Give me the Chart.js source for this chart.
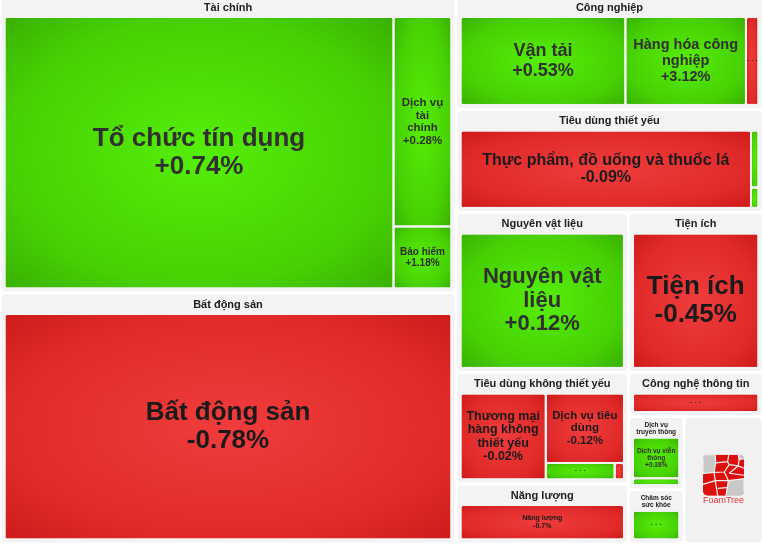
<!DOCTYPE html>
<html>
<head>
<meta charset="utf-8">
<script src="https://cdn.jsdelivr.net/npm/chart.js@4.4.1/dist/chart.umd.min.js"></script>
<style>
  html, body { margin: 0; padding: 0; background: #fff; }
  canvas { display: block; }
</style>
</head>
<body>
<canvas id="map" width="763" height="544"></canvas>
<script>
// Sectors (top level cells)
var sectors = ['Tài chính', 'Bất động sản', 'Công nghiệp', 'Tiêu dùng thiết yếu',
  'Nguyên vật liệu', 'Tiện ích', 'Tiêu dùng không thiết yếu', 'Năng lượng',
  'Công nghệ thông tin', 'Dịch vụ truyền thông', 'Chăm sóc sức khỏe'];

// Industries, their sector, weight (% of market) and change (%)
var industries = ['Tổ chức tín dụng', 'Dịch vụ tài chính', 'Bảo hiểm', 'Bất động sản',
  'Vận tải', 'Hàng hóa công nghiệp', 'Dịch vụ thương mại và chuyên nghiệp',
  'Thực phẩm, đồ uống và thuốc lá', 'Bán lẻ thực phẩm và dược phẩm', 'Sản phẩm gia dụng và cá nhân',
  'Nguyên vật liệu', 'Tiện ích',
  'Thương mại hàng không thiết yếu', 'Dịch vụ tiêu dùng', 'Hàng tiêu dùng lâu bền và may mặc', 'Ô tô và linh kiện',
  'Năng lượng', 'Phần mềm và dịch vụ',
  'Dịch vụ viễn thông', 'Truyền thông và giải trí', 'Dược phẩm và công nghệ sinh học'];
var industrySector = ['Tài chính', 'Tài chính', 'Tài chính', 'Bất động sản',
  'Công nghiệp', 'Công nghiệp', 'Công nghiệp',
  'Tiêu dùng thiết yếu', 'Tiêu dùng thiết yếu', 'Tiêu dùng thiết yếu',
  'Nguyên vật liệu', 'Tiện ích',
  'Tiêu dùng không thiết yếu', 'Tiêu dùng không thiết yếu', 'Tiêu dùng không thiết yếu', 'Tiêu dùng không thiết yếu',
  'Năng lượng', 'Công nghệ thông tin',
  'Dịch vụ truyền thông', 'Dịch vụ truyền thông', 'Chăm sóc sức khỏe'];
var industryWeight = [28.19, 3.24, 0.96, 27.37,
  4.61, 3.37, 0.35,
  7.37, 0.14, 0.05,
  6.60, 5.15,
  2.40, 1.78, 0.37, 0.05,
  2.48, 1.42,
  0.83, 0.14, 0.72];
var industryChange = [0.74, 0.28, 1.18, -0.78,
  0.53, 3.12, -0.4,
  -0.09, 0.5, 0.3,
  0.12, -0.45,
  -0.02, -0.12, 0.6, -0.3,
  -0.7, -0.2,
  0.38, 0.2, 0.4];

// space that FoamTree keeps for its logo
var LOGO = 'FoamTree';
var logoWeight = 2.41;

// How cells are stacked: 'row' splits left to right, 'col' top to bottom
var sectorLayout = {dir: 'row', items: [
  {dir: 'col', items: ['Tài chính', 'Bất động sản']},
  {dir: 'col', items: ['Công nghiệp', 'Tiêu dùng thiết yếu',
    {dir: 'row', items: ['Nguyên vật liệu', 'Tiện ích']},
    {dir: 'row', items: [
      {dir: 'col', items: ['Tiêu dùng không thiết yếu', 'Năng lượng']},
      {dir: 'col', items: ['Công nghệ thông tin',
        {dir: 'row', items: [{dir: 'col', items: ['Dịch vụ truyền thông', 'Chăm sóc sức khỏe']}, LOGO]}]}
    ]}
  ]}
]};
var industryLayout = {
  'Tài chính': {dir: 'row', items: ['Tổ chức tín dụng', {dir: 'col', items: ['Dịch vụ tài chính', 'Bảo hiểm']}]},
  'Tiêu dùng thiết yếu': {dir: 'row', items: ['Thực phẩm, đồ uống và thuốc lá',
    {dir: 'col', items: ['Bán lẻ thực phẩm và dược phẩm', 'Sản phẩm gia dụng và cá nhân']}]},
  'Tiêu dùng không thiết yếu': {dir: 'row', items: ['Thương mại hàng không thiết yếu',
    {dir: 'col', items: ['Dịch vụ tiêu dùng', {dir: 'row', items: ['Hàng tiêu dùng lâu bền và may mặc', 'Ô tô và linh kiện']}]}]},
  'Dịch vụ truyền thông': {dir: 'col', items: ['Dịch vụ viễn thông', 'Truyền thông và giải trí']}
};

// label text lines and font size for cells big enough to show a label
var labelStyle = {
  'Tổ chức tín dụng': {size: 26, lines: ['Tổ chức tín dụng']},
  'Bất động sản': {size: 26, lines: ['Bất động sản']},
  'Tiện ích': {size: 26, lines: ['Tiện ích']},
  'Nguyên vật liệu': {size: 22, lines: ['Nguyên vật', 'liệu']},
  'Vận tải': {size: 18, lines: ['Vận tải']},
  'Hàng hóa công nghiệp': {size: 14.5, lines: ['Hàng hóa công', 'nghiệp']},
  'Thực phẩm, đồ uống và thuốc lá': {size: 16, lines: ['Thực phẩm, đồ uống và thuốc lá']},
  'Dịch vụ tài chính': {size: 11.5, lines: ['Dịch vụ', 'tài', 'chính']},
  'Bảo hiểm': {size: 10, lines: ['Bảo hiểm']},
  'Thương mại hàng không thiết yếu': {size: 12.5, lines: ['Thương mại', 'hàng không', 'thiết yếu']},
  'Dịch vụ tiêu dùng': {size: 11.5, lines: ['Dịch vụ tiêu', 'dùng']},
  'Năng lượng': {size: 7, lines: ['Năng lượng']},
  'Dịch vụ viễn thông': {size: 6.5, lines: ['Dịch vụ viễn', 'thông']}
};

var FONT = '"Liberation Sans", Arial, sans-serif';
var GREEN = ['#55ee08', '#47d004', '#39b000'];
var RED = ['#f03c3c', '#e02a2a', '#ce1a1a'];

function weightOf(name){
  if(name === LOGO) return logoWeight;
  var i = industries.indexOf(name);
  if(i >= 0 && sectors.indexOf(name) < 0) return industryWeight[i];
  // a sector weighs as much as its industries
  var sum = 0;
  for(var k = 0; k < industries.length; ++k)
    if(industrySector[k] === name) sum += industryWeight[k];
  return sum;
}

function nodeWeight(node, leafWeight){
  if(typeof node === 'string') return leafWeight(node);
  return node.items.reduce(function(s, it){ return s + nodeWeight(it, leafWeight); }, 0);
}

// slice a box between the items of a node, in proportion to their weights
function split(node, box, leafWeight, out){
  if(typeof node === 'string'){ out.push({name: node, box: box}); return; }
  var total = nodeWeight(node, leafWeight);
  var pos = node.dir === 'row' ? box.x0 : box.y0;
  node.items.forEach(function(it){
    var frac = nodeWeight(it, leafWeight) / total;
    if(node.dir === 'row'){
      var w = (box.x1 - box.x0) * frac;
      split(it, {x0: pos, x1: pos + w, y0: box.y0, y1: box.y1}, leafWeight, out);
      pos += w;
    } else {
      var h = (box.y1 - box.y0) * frac;
      split(it, {x0: box.x0, x1: box.x1, y0: pos, y1: pos + h}, leafWeight, out);
      pos += h;
    }
  });
}

function roundPath(ctx, x0, y0, x1, y1, r){
  r = Math.min(r, (x1 - x0) / 2, (y1 - y0) / 2);
  ctx.beginPath();
  ctx.moveTo(x0 + r, y0);
  ctx.arcTo(x1, y0, x1, y1, r);
  ctx.arcTo(x1, y1, x0, y1, r);
  ctx.arcTo(x0, y1, x0, y0, r);
  ctx.arcTo(x0, y0, x1, y0, r);
  ctx.closePath();
}

function fillCell(ctx, b, col){
  var cx = (b.x0 + b.x1) / 2, cy = (b.y0 + b.y1) / 2;
  var hw = (b.x1 - b.x0) / 2, hh = (b.y1 - b.y0) / 2;
  if(hw <= 0 || hh <= 0) return;
  ctx.save();
  roundPath(ctx, b.x0, b.y0, b.x1, b.y1, 1.5);
  ctx.clip();
  ctx.translate(cx, cy);
  ctx.scale(hw, hh);
  var g = ctx.createRadialGradient(0, 0, 0, 0, 0, 1.42);
  g.addColorStop(0, col[0]);
  g.addColorStop(0.7, col[1]);
  g.addColorStop(1, col[2]);
  ctx.fillStyle = g;
  ctx.fillRect(-1, -1, 2, 2);
  ctx.restore();
}

function wrapWords(ctx, text, maxW){
  var words = text.split(' '), lines = [], cur = '';
  words.forEach(function(w){
    var t = cur ? cur + ' ' + w : w;
    if(cur && ctx.measureText(t).width > maxW){ lines.push(cur); cur = w; }
    else cur = t;
  });
  if(cur) lines.push(cur);
  return lines;
}

function drawLines(ctx, lines, cx, cy, lh){
  var top = cy - (lines.length - 1) * lh / 2;
  lines.forEach(function(l, i){ ctx.fillText(l, cx, top + i * lh); });
}

function drawLeaf(ctx, name, b){
  var i = industries.indexOf(name);
  var chg = industryChange[i];
  fillCell(ctx, b, chg >= 0 ? GREEN : RED);
  var w = b.x1 - b.x0, h = b.y1 - b.y0;
  ctx.save();
  ctx.beginPath();
  ctx.rect(b.x0, b.y0, w, h);
  ctx.clip();
  ctx.fillStyle = chg >= 0 ? '#303030' : '#1a1a1a';
  ctx.textAlign = 'center';
  ctx.textBaseline = 'middle';
  var st = labelStyle[name];
  if(st){
    ctx.font = 'bold ' + st.size + 'px ' + FONT;
    var txt = (chg > 0 ? '+' : '') + String(chg) + '%';
    drawLines(ctx, st.lines.concat([txt]), (b.x0 + b.x1) / 2, (b.y0 + b.y1) / 2, st.size * 1.08);
  } else if(w >= 10 && h >= 10){
    ctx.font = 'bold 8px ' + FONT;
    ctx.fillText('. . .', (b.x0 + b.x1) / 2, (b.y0 + b.y1) / 2 - 2);
  }
  ctx.restore();
}

// FoamTree badge drawn in its reserved cell (unit square coordinates)
var logoGray = [
  [[0,0],[0.30,0],[0.31,0.20],[0.27,0.43],[0,0.46]],
  [[0.86,0],[1,0],[1,0.10],[0.88,0.12]],
  [[0.62,0.63],[1,0.58],[1,1],[0.56,1]]
];
var logoSeams = [
  [[0.31,0.20],[0.60,0.17],[0.63,0]],
  [[0.60,0.17],[0.64,0.24],[0.86,0.27],[1,0.33]],
  [[0.86,0.27],[0.88,0.12]],
  [[0.27,0.43],[0.52,0.42],[0.64,0.24]],
  [[0.52,0.42],[0.62,0.63]],
  [[0.64,0.45],[0.86,0.27]],
  [[0.64,0.45],[1,0.50]],
  [[0,0.72],[0.30,0.63],[0.62,0.63]],
  [[0.30,0.63],[0.27,0.43]],
  [[0.30,0.63],[0.36,1]],
  [[0.36,0.82],[0.58,0.80]]
];
function drawLogo(ctx, p){
  ctx.save();
  roundPath(ctx, p.x0, p.y0, p.x1, p.y1, 4);
  ctx.fillStyle = '#f1f1f1';
  ctx.fill();
  var s = Math.min(p.x1 - p.x0, p.y1 - p.y0) * 0.54;
  var cx = (p.x0 + p.x1) / 2, cy = (p.y0 + p.y1) / 2 - 5;
  var lx = cx - s / 2, ly = cy - s / 2;
  var pt = function(q){ return [lx + q[0] * s, ly + q[1] * s]; };
  ctx.save();
  roundPath(ctx, lx, ly, lx + s, ly + s, 5);
  ctx.clip();
  ctx.fillStyle = '#dc0e0e';
  ctx.fillRect(lx, ly, s, s);
  ctx.fillStyle = '#c8c8c8';
  logoGray.forEach(function(poly){
    ctx.beginPath();
    poly.forEach(function(q, k){ var a = pt(q); if(k) ctx.lineTo(a[0], a[1]); else ctx.moveTo(a[0], a[1]); });
    ctx.closePath();
    ctx.fill();
  });
  ctx.strokeStyle = '#f1f1f1';
  ctx.lineWidth = 1.2;
  logoGray.concat(logoSeams).forEach(function(line, n){
    ctx.beginPath();
    line.forEach(function(q, k){ var a = pt(q); if(k) ctx.lineTo(a[0], a[1]); else ctx.moveTo(a[0], a[1]); });
    if(n < logoGray.length) ctx.closePath();
    ctx.stroke();
  });
  ctx.restore();
  ctx.fillStyle = '#e03434';
  ctx.font = '9px ' + FONT;
  ctx.textAlign = 'center';
  ctx.textBaseline = 'middle';
  ctx.fillText('FoamTree', cx, ly + s + 5);
  ctx.restore();
}

function drawSector(ctx, name, p){
  ctx.save();
  roundPath(ctx, p.x0, p.y0, p.x1, p.y1, 4);
  ctx.fillStyle = '#f3f3f3';
  ctx.fill();
  ctx.restore();

  var w = p.x1 - p.x0;
  var small = w < 80;
  ctx.save();
  ctx.fillStyle = '#202020';
  ctx.textAlign = 'center';
  ctx.textBaseline = 'middle';
  var fs = small ? 6.5 : 11;
  ctx.font = 'bold ' + fs + 'px ' + FONT;
  var lines = wrapWords(ctx, name, w - 8);
  drawLines(ctx, lines, (p.x0 + p.x1) / 2, p.y0 + 10.5, fs * 1.05);
  ctx.restore();

  // industries inside the panel, below the header band
  var inner = {x0: p.x0 + 3, x1: p.x1 - 3, y0: p.y0 + 19.5, y1: p.y1 - 3};
  var spec = industryLayout[name] || {dir: 'row', items: industries.filter(function(n, k){
    return industrySector[k] === name;
  })};
  var cells = [];
  split(spec, inner, function(n){ return industryWeight[industries.indexOf(n)]; }, cells);
  cells.forEach(function(c){
    drawLeaf(ctx, c.name, {x0: c.box.x0 + 1, x1: c.box.x1 - 1, y0: c.box.y0 + 1, y1: c.box.y1 - 1});
  });
}

var treemapPlugin = {
  id: 'treemap',
  afterDatasetsDraw: function(chart){
    var ctx = chart.ctx, xs = chart.scales.x, ys = chart.scales.y;
    var cells = [];
    split(sectorLayout, {x0: 0, x1: 1, y0: 0, y1: 1}, weightOf, cells);
    cells.forEach(function(c){
      var p = {
        x0: xs.getPixelForValue(c.box.x0) + 1.5, x1: xs.getPixelForValue(c.box.x1) - 1.5,
        y0: ys.getPixelForValue(c.box.y0) + 1.5, y1: ys.getPixelForValue(c.box.y1) - 1.5
      };
      if(c.name === LOGO) drawLogo(ctx, p);
      else drawSector(ctx, c.name, p);
    });
  }
};

new Chart(document.getElementById('map'), {
  type: 'scatter',
  data: { datasets: [{ data: [] }] },
  options: {
    responsive: false,
    animation: false,
    layout: { padding: 0 },
    plugins: { legend: { display: false }, tooltip: { enabled: false } },
    scales: {
      x: { type: 'linear', min: 0, max: 1, display: false },
      // top row of panels sits a little above the picture edge
      y: { type: 'linear', min: 4 / 548, max: 1, reverse: true, display: false }
    }
  },
  plugins: [treemapPlugin]
});
</script>
</body>
</html>
